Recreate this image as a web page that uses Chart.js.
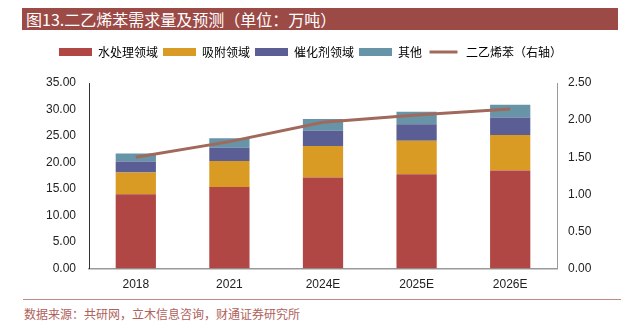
<!DOCTYPE html>
<html>
<head>
<meta charset="utf-8">
<script src="https://cdn.jsdelivr.net/npm/chart.js@4"></script>
<style>
  html, body { margin: 0; padding: 0; background: #fff; }
  body { width: 621px; height: 328px; position: relative; overflow: hidden;
         font-family: "Noto Sans CJK SC", sans-serif; }
  #title { position: absolute; left: 22px; top: 8px; width: 596px; height: 22px;
           background: #9c4a46; color: #fff; font-size: 16px; line-height: 22px;
           padding-left: 4px; box-sizing: border-box; }
  #wrap { position: absolute; left: 0; top: 36px; width: 621px; height: 260px; }
  #rule { position: absolute; left: 23px; top: 299px; width: 598px; height: 1px; background: #c08a86; }
  #source { position: absolute; left: 24px; top: 305px; font-size: 12px; color: #b0615c; }
</style>
</head>
<body>
<div id="title">图13.二乙烯苯需求量及预测（单位：万吨）</div>
<div id="wrap"><canvas id="chart"></canvas></div>
<div id="rule"></div>
<div id="source">数据来源：共研网，立木信息咨询，财通证券研究所</div>
<script>
/* ===== DATA ===== */
const YEARS = ["2018", "2021", "2024E", "2025E", "2026E"];
const WATER = [14.0, 15.4, 17.2, 17.8, 18.5];     // 水处理领域
const ADSORB = [4.1, 4.9, 5.9, 6.3, 6.7];        // 吸附领域
const CATALYST = [2.1, 2.5, 2.9, 3.1, 3.3];      // 催化剂领域
const OTHER = [1.5, 1.8, 2.2, 2.4, 2.4];         // 其他
const DVB = [1.50, 1.71, 1.97, 2.07, 2.15];      // 二乙烯苯（右轴）

const TICK_FONT = { family: "'Liberation Sans', Arial, sans-serif", size: 12 };

function bar(label, data, color) {
  return { type: "bar", label, data, backgroundColor: color, borderWidth: 0,
           yAxisID: "y", stack: "s", order: 2 };
}

/* extra space under the legend */
const legendGap = {
  id: "legendGap",
  beforeInit(chart) {
    const fit = chart.legend.fit;
    chart.legend.fit = function () {
      fit.bind(chart.legend)();
      this.height += 15;
    };
  }
};

window.addEventListener("DOMContentLoaded", () => {
  const ctx = document.getElementById("chart").getContext("2d");

  new Chart(ctx, {
    data: {
      labels: YEARS,
      datasets: [
        bar("水处理领域", WATER, "#b04745"),
        bar("吸附领域", ADSORB, "#d99b24"),
        bar("催化剂领域", CATALYST, "#5a5e95"),
        bar("其他", OTHER, "#6794a7"),
        {
          type: "line", label: "二乙烯苯（右轴）", data: DVB,
          borderColor: "#a0695c", backgroundColor: "#a0695c",
          borderWidth: 3, pointRadius: 0, tension: 0,
          yAxisID: "y1", order: 1
        }
      ]
    },
    plugins: [legendGap],
    options: {
      responsive: true,
      maintainAspectRatio: false,
      animation: false,
      datasets: { bar: { categoryPercentage: 1, barPercentage: 0.43 } },
      layout: { padding: { top: 5, bottom: 0, left: 0, right: 0 } },
      plugins: {
        tooltip: { enabled: false },
        legend: {
          position: "top",
          labels: {
            boxWidth: 33, boxHeight: 8, padding: 5,
            color: "#333", font: { family: "'Noto Sans CJK SC', sans-serif", size: 12 },
            generateLabels(chart) {
              return chart.data.datasets.map((ds, i) => {
                const isLine = ds.type === "line";
                return {
                  text: ds.label,
                  fillStyle: ds.backgroundColor,
                  strokeStyle: isLine ? "#fff" : ds.backgroundColor,
                  lineWidth: isLine ? 5 : 0,
                  datasetIndex: i,
                  hidden: false
                };
              });
            }
          }
        }
      },
      scales: {
        x: {
          grid: { display: false, drawTicks: true, tickLength: 5, color: "#555" },
          border: { color: "#999", width: 1.5 },
          ticks: { color: "#222", font: TICK_FONT, padding: 4 }
        },
        y: {
          position: "left", min: 0, max: 35,
          afterFit(s) { s.width = 89; },
          grid: { display: false, drawTicks: true, tickLength: 5, color: "#333" },
          border: { color: "#333", width: 1 },
          ticks: { stepSize: 5, color: "#222", font: TICK_FONT, padding: 8,
                   callback: v => v.toFixed(2) }
        },
        y1: {
          position: "right", min: 0, max: 2.5,
          afterFit(s) { s.width = 64; },
          grid: { display: false, drawTicks: true, tickLength: 5, color: "#999" },
          border: { color: "#999", width: 1 },
          ticks: { stepSize: 0.5, color: "#222", font: TICK_FONT, padding: 6,
                   callback: v => v.toFixed(2) }
        }
      }
    }
  });
});
</script>
</body>
</html>
